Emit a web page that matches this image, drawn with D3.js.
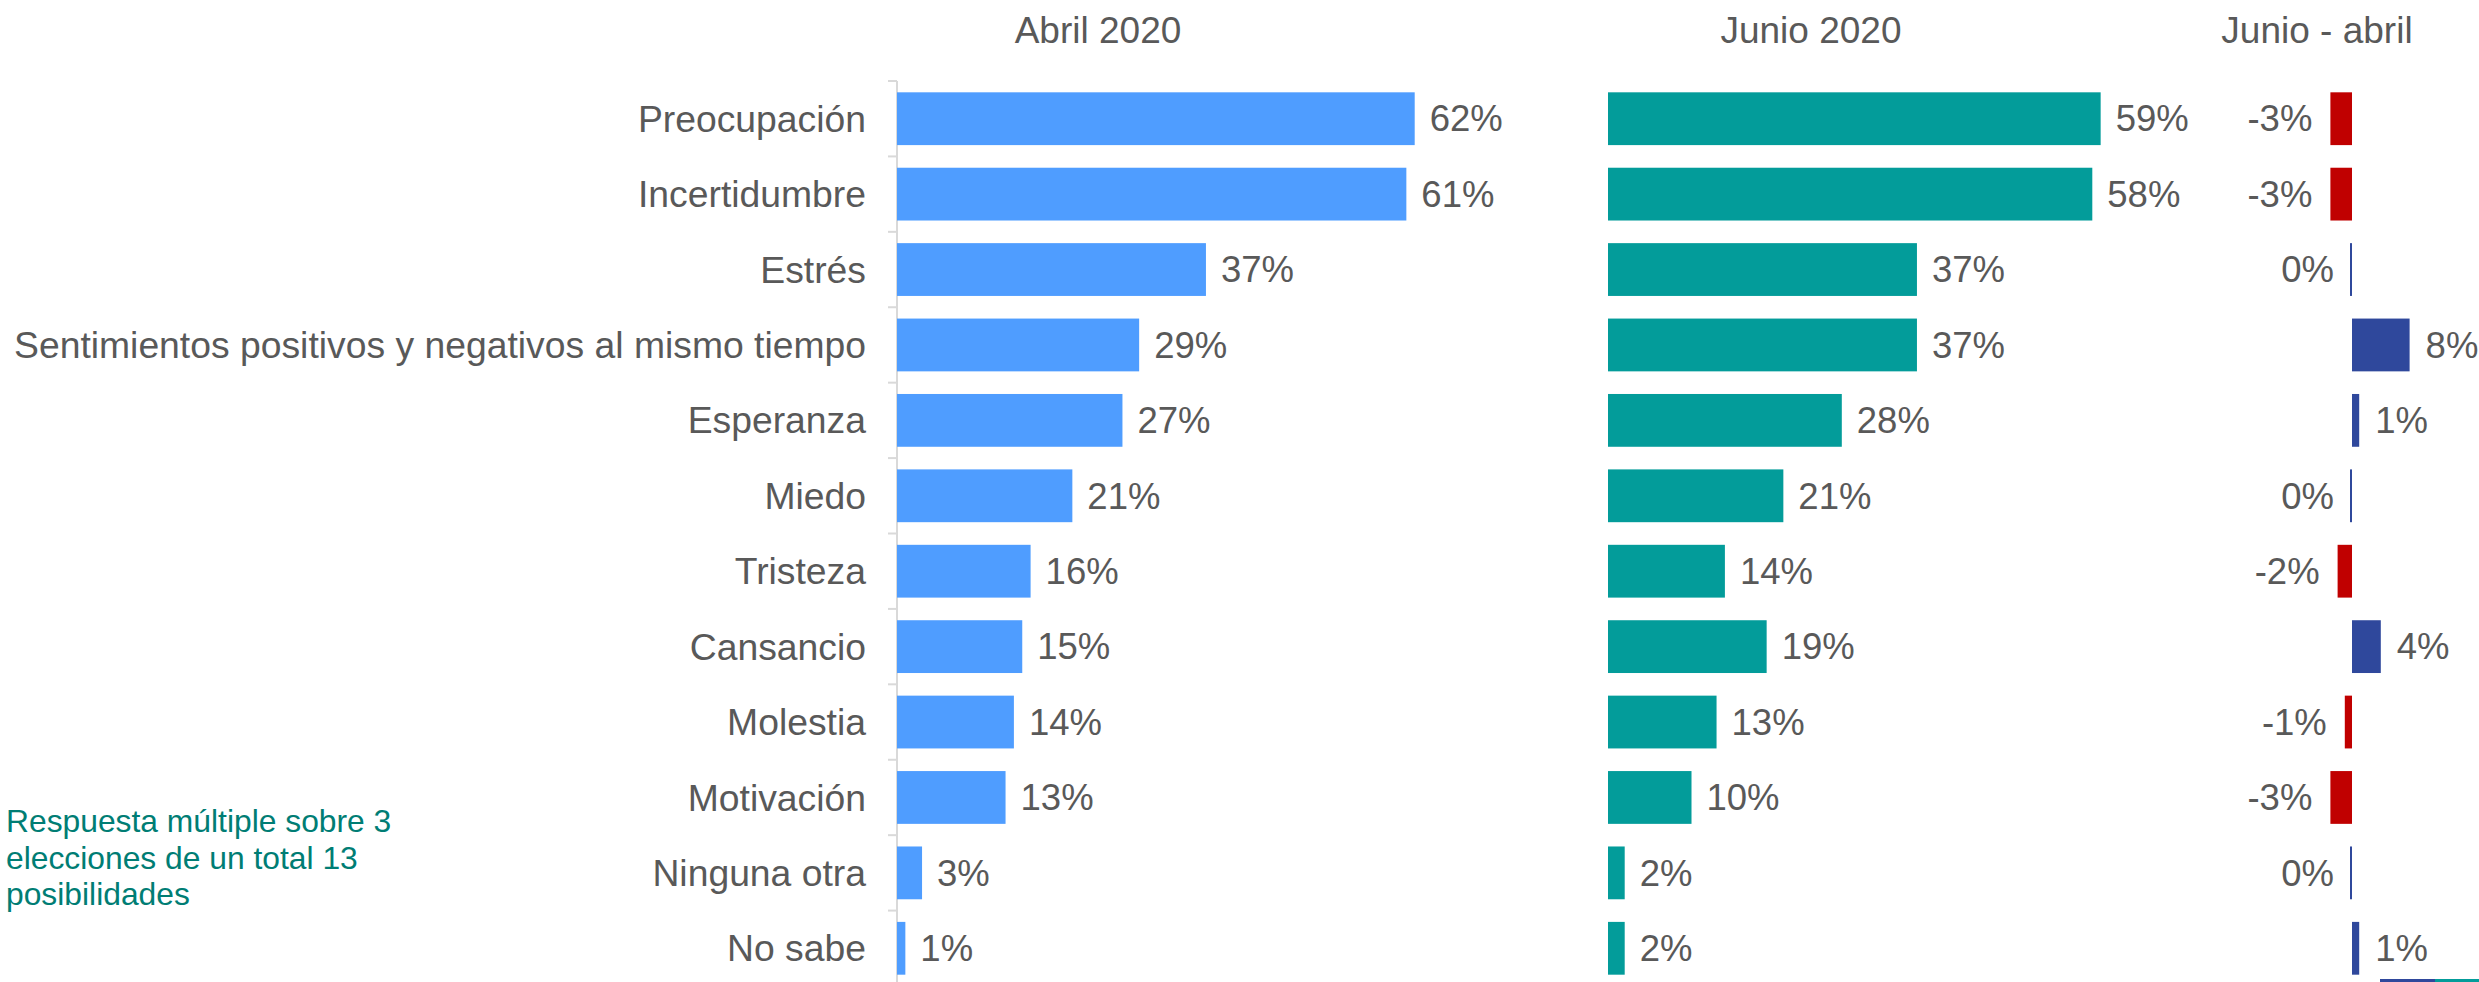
<!DOCTYPE html>
<html>
<head>
<meta charset="utf-8">
<script src="https://cdn.jsdelivr.net/npm/d3@7"></script>
<style>
  body { margin: 0; background: #fff; }
  text { font-family: "Liberation Sans", Arial, sans-serif; fill: #595959; }
</style>
</head>
<body>
<div id="chart"></div>
<script>
// data
var categories = ["Preocupación", "Incertidumbre", "Estrés",
  "Sentimientos positivos y negativos al mismo tiempo", "Esperanza", "Miedo",
  "Tristeza", "Cansancio", "Molestia", "Motivación", "Ninguna otra", "No sabe"];
var abril = [62, 61, 37, 29, 27, 21, 16, 15, 14, 13, 3, 1];
var junio = [59, 58, 37, 37, 28, 21, 14, 19, 13, 10, 2, 2];
var diff = [-3, -3, 0, 8, 1, 0, -2, 4, -1, -3, 0, 1];
var titles = ["Abril 2020", "Junio 2020", "Junio - abril"];
var note = ["Respuesta múltiple sobre 3", "elecciones de un total 13", "posibilidades"];

// svg container
var width = 2479;
var height = 982;
var fontSize = 36.5;

var svg = d3.select("#chart").append("svg")
    .attr("width", width)
    .attr("height", height);

// rows
var yScale = d3.scaleBand()
    .domain(categories)
    .range([81, 986])
    .paddingInner(0.3)
    .paddingOuter(0.15);

// one scale per panel
var xAbril = d3.scaleLinear().domain([0, 100]).range([897, 897 + 835]);
var xJunio = d3.scaleLinear().domain([0, 100]).range([1608, 1608 + 835]);
var xDiff = d3.scaleLinear().domain([-10, 10]).range([2352 - 72, 2352 + 72]);

var pct = d => d + "%";

//// Titles ////
var titleX = [1098, 1811, 2317];
svg.selectAll("text.title")
    .data(titles)
    .enter()
    .append("text")
    .attr("class", "title")
    .attr("x", (d, i) => titleX[i])
    .attr("y", 43)
    .attr("text-anchor", "middle")
    .attr("font-size", 37)
    .text(d => d);

//// Abril panel ////
// axis line with ticks on the band edges
var axisG = svg.append("g")
    .attr("transform", "translate(897, 0)");
axisG.append("line")
    .attr("x1", 0).attr("x2", 0)
    .attr("y1", 81).attr("y2", 986)
    .attr("stroke", "#d9d9d9")
    .attr("stroke-width", 2);
axisG.selectAll("line.edge")
    .data(d3.range(categories.length + 1))
    .enter()
    .append("line")
    .attr("class", "edge")
    .attr("x1", -9).attr("x2", 0)
    .attr("y1", i => 81 + i * yScale.step())
    .attr("y2", i => 81 + i * yScale.step())
    .attr("stroke", "#d9d9d9")
    .attr("stroke-width", 2);

svg.selectAll("text.cat")
    .data(categories)
    .enter()
    .append("text")
    .attr("class", "cat")
    .attr("x", 866)
    .attr("y", d => yScale(d) + yScale.bandwidth() / 2)
    .attr("dy", "0.35em")
    .attr("text-anchor", "end")
    .attr("font-size", 37.3)
    .text(d => d);

svg.selectAll("rect.abril")
    .data(abril)
    .enter()
    .append("rect")
    .attr("class", "abril")
    .attr("x", xAbril(0))
    .attr("y", (d, i) => yScale(categories[i]))
    .attr("width", d => xAbril(d) - xAbril(0))
    .attr("height", yScale.bandwidth())
    .attr("fill", "#4f9dff");

svg.selectAll("text.abril")
    .data(abril)
    .enter()
    .append("text")
    .attr("class", "abril")
    .attr("x", d => xAbril(d) + 15)
    .attr("y", (d, i) => yScale(categories[i]) + yScale.bandwidth() / 2)
    .attr("dy", "0.35em")
    .attr("font-size", fontSize)
    .text(pct);

//// Junio panel ////
svg.selectAll("rect.junio")
    .data(junio)
    .enter()
    .append("rect")
    .attr("class", "junio")
    .attr("x", xJunio(0))
    .attr("y", (d, i) => yScale(categories[i]))
    .attr("width", d => xJunio(d) - xJunio(0))
    .attr("height", yScale.bandwidth())
    .attr("fill", "#039c9a");

svg.selectAll("text.junio")
    .data(junio)
    .enter()
    .append("text")
    .attr("class", "junio")
    .attr("x", d => xJunio(d) + 15)
    .attr("y", (d, i) => yScale(categories[i]) + yScale.bandwidth() / 2)
    .attr("dy", "0.35em")
    .attr("font-size", fontSize)
    .text(pct);

//// Difference panel ////
svg.selectAll("rect.diff")
    .data(diff)
    .enter()
    .append("rect")
    .attr("class", "diff")
    .attr("x", d => d === 0 ? xDiff(0) - 2 : Math.min(xDiff(0), xDiff(d)))
    .attr("y", (d, i) => yScale(categories[i]))
    .attr("width", d => d === 0 ? 2 : Math.abs(xDiff(d) - xDiff(0)))
    .attr("height", yScale.bandwidth())
    .attr("fill", d => d < 0 ? "#c00000" : "#2f489c");

svg.selectAll("text.diff")
    .data(diff)
    .enter()
    .append("text")
    .attr("class", "diff")
    .attr("x", d => d > 0 ? xDiff(d) + 16 : Math.min(xDiff(0), xDiff(d)) - 18)
    .attr("y", (d, i) => yScale(categories[i]) + yScale.bandwidth() / 2)
    .attr("dy", "0.35em")
    .attr("text-anchor", d => d > 0 ? "start" : "end")
    .attr("font-size", fontSize)
    .text(pct);

//// Note ////
svg.append("text")
    .attr("x", 6)
    .attr("y", 832)
    .attr("font-size", 31.8)
    .style("fill", "#007d74")
    .selectAll("tspan")
    .data(note)
    .enter()
    .append("tspan")
    .attr("x", 6)
    .attr("dy", (d, i) => i === 0 ? 0 : 36.5)
    .text(d => d);

// cut-off legend strip at the bottom right
svg.append("rect")
    .attr("x", 2380).attr("y", 979).attr("width", 55).attr("height", 3)
    .attr("fill", "#2f489c");
svg.append("rect")
    .attr("x", 2435).attr("y", 979).attr("width", 44).attr("height", 3)
    .attr("fill", "#039c9a");
</script>
</body>
</html>
